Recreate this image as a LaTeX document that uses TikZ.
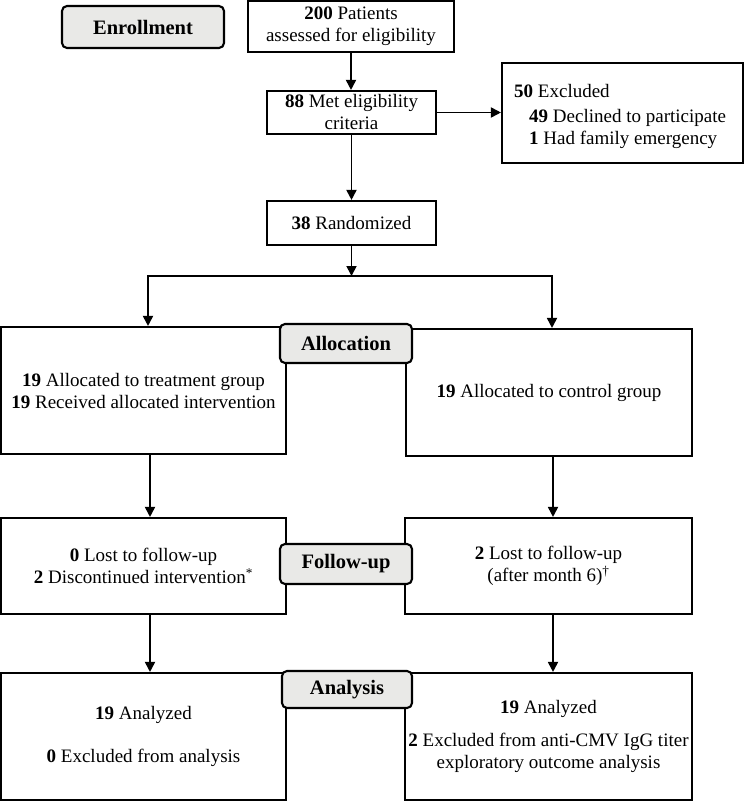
\documentclass[tikz,border=0pt]{standalone}
\usepackage{fontspec}
\setmainfont{Liberation Serif}
\usetikzlibrary{arrows.meta}
\definecolor{labgray}{RGB}{233,233,231}
\newcommand\cbody{\fontsize{19}{22}\selectfont}
\newcommand\clab{\fontsize{20.5}{24}\selectfont\bfseries}
\begin{document}
\begin{tikzpicture}[x=1pt,y=-1pt,
  box/.style={draw, line width=2.1pt, fill=white, inner sep=0pt, align=center, font=\cbody},
  lab/.style={draw, line width=2.1pt, rounded corners=5pt, fill=labgray, inner sep=0pt, font=\clab},
  arr/.style={line width=1.8pt, -{Triangle[length=10pt,width=10pt]}},
  txt/.style={inner sep=0pt, font=\cbody}]
\useasboundingbox (0,0) rectangle (744,802);
\fill[white] (0,0) rectangle (744,802);

% enrollment column
\node[lab, minimum width=162pt, minimum height=42pt] (enroll) at (143,27) {Enrollment};
\node[box, minimum width=206pt, minimum height=51pt] (p200) at (351,26.5) {\textbf{200} Patients\\assessed for eligibility};
\node[box, minimum width=169pt, minimum height=43pt] (met) at (351.5,112.5) {\textbf{88} Met eligibility\\criteria};
\node[box, minimum width=241pt, minimum height=100pt] (excl) at (622.5,113) {};
\node[txt, anchor=west, align=left] (excltxt) at (514,116) {\textbf{50} Excluded\\[3pt]\hspace*{15pt}\textbf{49} Declined to participate\\\hspace*{15pt}\textbf{1} Had family emergency};
\node[box, minimum width=169pt, minimum height=44pt] (rand) at (351.5,223) {\textbf{38} Randomized};

% group boxes
\node[box, minimum width=285pt, minimum height=127pt] (treat) at (143.5,390.5) {\textbf{19} Allocated to treatment group\\\textbf{19} Received allocated intervention};
\node[box, minimum width=286pt, minimum height=127pt] (ctrl) at (549,392.5) {\textbf{19} Allocated to control group};
\node[box, minimum width=285pt, minimum height=96pt] (fl) at (143.5,566) {\textbf{0} Lost to follow-up\\\textbf{2} Discontinued intervention\textsuperscript{*}};
\node[box, minimum width=287pt, minimum height=96pt] (fr) at (548.5,566) {\textbf{2} Lost to follow-up\\(after month 6)\textsuperscript{†}};
\node[box, minimum width=285pt, minimum height=127pt] (al) at (143.5,736.5) {\textbf{19} Analyzed\\[21pt]\textbf{0} Excluded from analysis};
\node[box, minimum width=287pt, minimum height=127pt] (ar) at (548.5,736.5) {\textbf{19} Analyzed\\[11pt]\textbf{2} Excluded from anti-CMV IgG titer\\exploratory outcome analysis};

% stage labels
\node[lab, minimum width=132pt, minimum height=39pt] (alloc) at (346,343.5) {Allocation};
\node[lab, minimum width=132pt, minimum height=40pt] (fu) at (346,564) {Follow-up};
\node[lab, minimum width=130pt, minimum height=37pt] (an) at (347,689.5) {Analysis};

% connectors
\coordinate (sl) at (148,276);
\coordinate (sr) at (552,276);
\coordinate (lc) at (150,0);
\coordinate (rc) at (553,0);
\draw[arr] (p200.south) -- (p200.south |- met.north);
\draw[arr] (met.east) -- (met.east -| excl.west);
\draw[arr] (met.south) -- (met.south |- rand.north);
\draw[arr] (rand.south) -- (rand.south |- sl);
\draw[arr] (sr) -- (sl) -- (sl |- treat.north);
\draw[arr] (sl) -- (sr) -- (sr |- ctrl.north);
\draw[arr] (treat.south -| lc) -- (fl.north -| lc);
\draw[arr] (ctrl.south -| rc) -- (fr.north -| rc);
\draw[arr] (fl.south -| lc) -- (al.north -| lc);
\draw[arr] (fr.south -| rc) -- (ar.north -| rc);
\end{tikzpicture}
\end{document}
